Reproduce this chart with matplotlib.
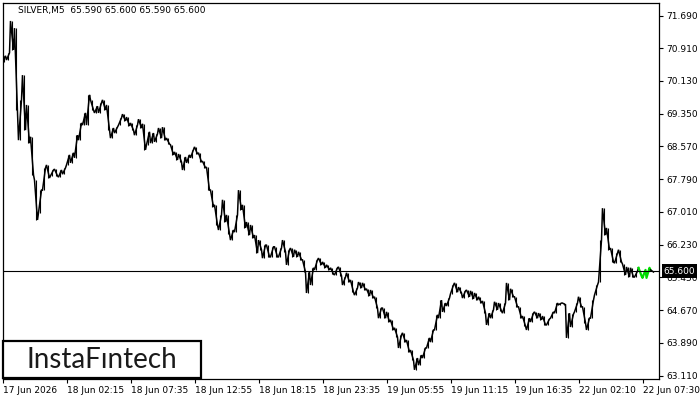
import numpy as np
import matplotlib
matplotlib.use('Agg')
import matplotlib.pyplot as plt
from matplotlib.patches import Rectangle

# SILVER M5, each entry = high / low of a 4-bar (20 min) block
highs = [70.73, 70.80, 71.56, 71.39, 69.68, 70.27, 69.56, 68.80, 67.77, 67.53,
         68.06, 68.13, 68.01, 68.03, 68.01, 68.06, 68.37, 68.42, 68.84, 69.13,
         69.37, 69.80, 69.68, 69.53, 69.61, 69.68, 69.56, 69.01, 69.03, 69.25,
         69.34, 69.27, 69.13, 69.08, 69.22, 69.11, 68.92, 68.89, 68.87, 69.01,
         69.03, 68.77, 68.61, 68.44, 68.39, 68.32, 68.37, 68.49, 68.56, 68.42,
         68.22, 68.08, 67.53, 67.18, 66.94, 67.30, 66.94, 66.58, 66.94, 67.53,
         67.18, 66.77, 66.70, 66.46, 66.34, 66.22, 66.22, 66.18, 66.18, 66.15,
         66.34, 66.11, 66.15, 66.11, 66.06, 65.87, 65.58, 65.68, 65.87, 65.91,
         65.82, 65.75, 65.68, 65.68, 65.70, 65.46, 65.56, 65.39, 65.20, 65.34,
         65.32, 65.18, 65.15, 64.99, 64.72, 64.72, 64.63, 64.44, 64.25, 64.08,
         64.13, 63.96, 63.72, 63.53, 63.60, 63.77, 64.01, 64.20, 64.56, 64.91,
         64.84, 64.96, 65.27, 65.32, 65.22, 65.13, 65.15, 65.13, 65.08, 64.99,
         64.89, 64.60, 64.68, 64.87, 64.84, 64.84, 65.32, 65.18, 64.99, 64.75,
         64.53, 64.48, 64.60, 64.63, 64.60, 64.53, 64.46, 64.63, 64.84, 64.84,
         64.84, 64.60, 64.58, 64.84, 64.99, 64.75, 64.48, 64.91, 65.27, 66.34,
         67.10, 66.63, 66.15, 66.03, 66.11, 65.77, 65.70, 65.68, 65.60]
lows = [70.58, 70.63, 70.87, 69.44, 68.72, 68.96, 68.65, 67.89, 66.82, 66.99,
        67.53, 67.82, 67.87, 67.87, 67.84, 67.91, 68.13, 68.18, 68.30, 68.72,
        69.08, 69.08, 69.44, 69.37, 69.37, 69.44, 68.96, 68.77, 68.89, 69.08,
        69.18, 69.06, 68.96, 68.84, 69.01, 68.49, 68.61, 68.65, 68.68, 68.77,
        68.72, 68.63, 68.37, 68.25, 68.20, 68.01, 68.18, 68.30, 68.39, 68.20,
        68.06, 67.53, 67.13, 66.70, 66.58, 66.77, 66.49, 66.34, 66.53, 67.06,
        66.63, 66.46, 66.39, 66.03, 66.11, 65.91, 65.94, 65.94, 65.94, 65.94,
        66.06, 65.75, 65.94, 65.94, 65.87, 65.58, 65.08, 65.27, 65.63, 65.75,
        65.68, 65.63, 65.53, 65.51, 65.49, 65.27, 65.34, 65.10, 65.03, 65.20,
        65.15, 65.01, 64.96, 64.72, 64.48, 64.48, 64.39, 64.20, 64.03, 63.77,
        63.91, 63.67, 63.48, 63.25, 63.36, 63.53, 63.77, 63.91, 64.20, 64.48,
        64.63, 64.77, 65.06, 65.10, 65.08, 64.96, 64.99, 64.94, 64.91, 64.84,
        64.60, 64.32, 64.48, 64.68, 64.65, 64.60, 64.91, 64.99, 64.75, 64.48,
        64.29, 64.20, 64.39, 64.48, 64.44, 64.32, 64.32, 64.48, 64.60, 64.80,
        64.80, 64.01, 64.27, 64.63, 64.75, 64.37, 64.20, 64.48, 65.03, 65.34,
        66.46, 66.11, 65.82, 65.79, 65.82, 65.51, 65.46, 65.46, 65.46]
# last blocks, highlighted in green (pattern)
green_highs = [65.68, 65.63, 65.68]
green_lows = [65.49, 65.44, 65.44]
last_high = [65.63]
last_low = [65.58]

price_now = 65.600
y_ticks = [71.690, 70.910, 70.130, 69.350, 68.570, 67.790, 67.010,
           66.230, 65.450, 64.670, 63.890, 63.110]
x_labels = ['17 Jun 2026', '18 Jun 02:15', '18 Jun 07:35', '18 Jun 12:55',
            '18 Jun 18:15', '18 Jun 23:35', '19 Jun 05:55', '19 Jun 11:15',
            '19 Jun 16:35', '22 Jun 02:10', '22 Jun 07:30']
header = 'SILVER,M5  65.590 65.600 65.590 65.600'

font_size = 6.5
W, H = 700, 400


def zigzag(x, hi, lo, nxt):
    # each block drawn as a stroke between its high and low,
    # ending on the side closest to the next block
    px, py = [], []
    for i in range(len(x)):
        mid_next = nxt[i]
        if mid_next is None or mid_next < (hi[i] + lo[i]) / 2:
            a, b = hi[i], lo[i]
        else:
            a, b = lo[i], hi[i]
        px += [x[i] - 1.5, x[i] + 1.5]
        py += [a, b]
    return px, py


fig = plt.figure(figsize=(7, 4), dpi=100)
ax = fig.add_axes([3 / W, 1 - 379 / H, 656 / W, 376 / H])

all_hi = highs + green_highs + last_high
all_lo = lows + green_lows + last_low
mids = [(h + l) / 2 for h, l in zip(all_hi, all_lo)]
nxt = mids[1:] + [None]
xall = np.arange(len(all_hi)) * 4 + 4
px, py = zigzag(xall, all_hi, all_lo, nxt)

n = len(highs)
ng = len(green_highs)
ax.plot(px[:2 * n + 1], py[:2 * n + 1], color='black', lw=1.1, solid_joinstyle='miter')
ax.plot(px[2 * n:2 * (n + ng) + 1], py[2 * n:2 * (n + ng) + 1], color='#00dd00', lw=1.6)
ax.plot(px[2 * (n + ng):], py[2 * (n + ng):], color='black', lw=1.1)
ax.vlines(xall[:n], lows, highs, color='black', lw=0.8)
ax.axhline(price_now, color='black', lw=0.8)

ax.set_xlim(3, 659)
ax.set_ylim(63.031, 71.988)

ax.yaxis.tick_right()
ax.set_yticks(y_ticks)
ax.set_yticklabels(['%.3f' % v for v in y_ticks], fontsize=font_size)
ax.tick_params(axis='y', length=3, width=0.8, pad=2)

ax.set_xticks(np.arange(len(x_labels)) * 64 + 3)
ax.set_xticklabels(x_labels, fontsize=font_size, ha='left')
ax.tick_params(axis='x', length=3, width=0.8, pad=2)
for sp in ax.spines.values():
    sp.set_linewidth(0.9)

# header text
fig.text(18 / W, 1 - 11 / H, header, fontsize=font_size, va='center', ha='left')

# current price box
fig.add_artist(Rectangle((662 / W, 1 - 278 / H), 35 / W, 14 / H,
                         transform=fig.transFigure, facecolor='black', edgecolor='none', zorder=5))
fig.text(679.5 / W, 1 - 271 / H, '%.3f' % price_now, color='white', fontsize=font_size,
         ha='center', va='center', zorder=6)

# logo
fig.add_artist(Rectangle((3 / W, 1 - 378 / H), 198 / W, 37 / H, transform=fig.transFigure,
                         facecolor='white', edgecolor='black', lw=1.6, zorder=5))
fig.text(102 / W, 1 - 360 / H, 'InstaF\u0131ntech', fontsize=20, family='Lato',
         ha='center', va='center', color='#1a1a1a', zorder=6)

fig.savefig('out.png', dpi=100)
